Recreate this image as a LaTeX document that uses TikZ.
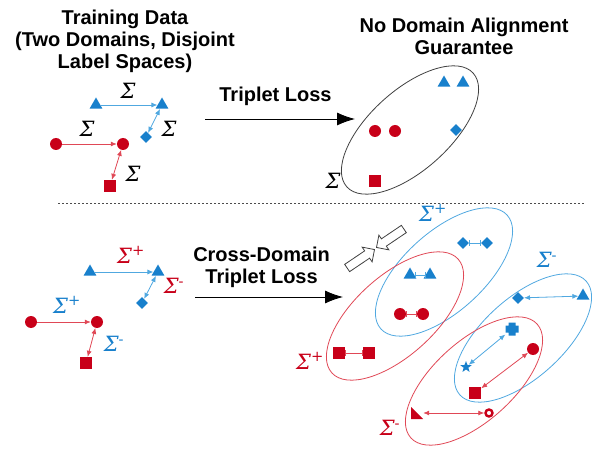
\documentclass[tikz,border=0pt]{standalone}
\usepackage[no-math]{fontspec}
\newfontfamily\titlefont{Liberation Sans}
\newfontfamily\sigfont{DejaVu Serif}
\usetikzlibrary{arrows.meta, shapes.geometric, shapes.arrows}
\definecolor{markB}{RGB}{24,128,204}
\definecolor{lineB}{RGB}{80,168,224}
\definecolor{markR}{RGB}{200,0,25}
\definecolor{lineR}{RGB}{224,72,86}
\tikzset{>={Latex[length=6pt,width=5pt]}}
\tikzset{
  tri/.style={regular polygon, regular polygon sides=3, fill, inner sep=0pt, minimum size=15pt},
  dot/.style={circle, fill, inner sep=0pt, minimum size=12pt},
  sqr/.style={rectangle, fill, inner sep=0pt, minimum size=12pt},
  dia/.style={diamond, fill, inner sep=0pt, minimum size=12pt},
  starm/.style={star, star points=5, star point ratio=2.4, fill, inner sep=0pt, minimum size=12pt},
  ring/.style={circle, draw, line width=2.4pt, inner sep=0pt, minimum size=7pt},
  plusm/.style={rectangle, inner sep=0pt, minimum size=13pt,
    path picture={\fill (path picture bounding box.center) +(-6.5pt,-3.5pt) rectangle +(6.5pt,3.5pt)
      +(-3.5pt,-6.5pt) rectangle +(3.5pt,6.5pt);}},
  bow/.style={rectangle, inner sep=0pt, minimum size=12pt,
    path picture={\fill (path picture bounding box.north west) -- (path picture bounding box.south west)
      -- (path picture bounding box.south east) -- cycle;}},
  lb/.style={lineB, line width=0.8pt},
  lr/.style={lineR, line width=0.8pt},
  hbar/.style={{Bar[width=6pt]}-{Bar[width=6pt]}},
  grp/.style={ellipse, draw, line width=0.8pt, inner sep=0pt, minimum width=170pt, minimum height=80pt, rotate=42},
  sig/.style={font=\sigfont\itshape\fontsize{21}{24}\selectfont, inner sep=0pt},
  ttl/.style={font=\titlefont\bfseries\fontsize{20}{22}\selectfont, align=center, inner sep=0pt},
  big/.style={-{Latex[length=18pt,width=13pt]}, line width=0.9pt},
  hollow/.style={single arrow, draw=black!75, fill=white, line width=0.8pt, inner sep=4pt,
    minimum height=33pt, single arrow head extend=4.5pt, single arrow head indent=0pt},
  sepline/.style={black!70, line width=0.8pt, dash pattern=on 2pt off 2pt}
}
\newcommand{\sgp}{Σ\textsuperscript{\upshape+}}
\newcommand{\sgm}{Σ\textsuperscript{\upshape-}}

\begin{document}
\begin{tikzpicture}[x=1pt, y=-1pt]
\useasboundingbox (0,0) rectangle (592,449);

\node[ttl, anchor=north] (ttA) at (125,10) {Training Data\\(Two Domains, Disjoint\\Label Spaces)};
\node[ttl, anchor=north] (ttB) at (464,18) {No Domain Alignment\\Guarantee};

\coordinate (a1) at (205,119);
\coordinate (a2) at (355,119);
\draw[big] (a1) -- node[pos=0.47, above=13pt, ttl] (lA) {Triplet Loss} (a2);
\coordinate (b1) at (195,297);
\coordinate (b2) at (343,297);
\draw[big] (b1) -- node[pos=0.45, above=9pt, ttl] (lB) {Cross-Domain\\Triplet Loss} (b2);

\coordinate (s1) at (58,203);
\coordinate (s2) at (585,203);
\draw[sepline] (s1) -- (s2);

\node[tri, markB] (tA) at (96,105) {};
\node[tri, markB] (tB) at (162,105) {};
\node[dia, markB] (dA) at (146,137) {};
\node[dot, markR] (cA) at (56,144) {};
\node[dot, markR] (cB) at (123,144) {};
\node[sqr, markR] (sA) at (110,186) {};
\draw[lb, ->] (tA) -- (tB);
\draw[lb, <->] (tB) -- (dA);
\draw[lr, ->] (cA) -- (cB);
\draw[lr, <->] (cB) -- (sA);
\node[sig] (g1) at (128,91) {Σ};
\node[sig] (g2) at (169,129) {Σ};
\node[sig] (g3) at (87,129) {Σ};
\node[sig] (g4) at (133,174) {Σ};

\node[grp, draw=black!75] (eA) at (410,130) {};
\node[tri, markB] (tC) at (444,83) {};
\node[tri, markB] (tD) at (463,83) {};
\node[dot, markR] (cC) at (375,131) {};
\node[dot, markR] (cD) at (395,131) {};
\node[dia, markB] (dB) at (456,130) {};
\node[sqr, markR] (sB) at (375,181) {};
\node[sig] (g5) at (333,181) {Σ};

\node[tri, markB] (tE) at (90,272) {};
\node[tri, markB] (tF) at (158,272) {};
\node[dia, markB] (dC) at (142,303) {};
\node[dot, markR] (cE) at (31,322) {};
\node[dot, markR] (cF) at (97,322) {};
\node[sqr, markR] (sC) at (86,363) {};
\draw[lb, ->] (tE) -- (tF);
\draw[lb, <->] (tF) -- (dC);
\draw[lr, ->] (cE) -- (cF);
\draw[lr, <->] (cF) -- (sC);
\node[sig, markR] (g6) at (131,255) {\sgp};
\node[sig, markR] (g7) at (174,286) {\sgm};
\node[sig, markB] (g8) at (67,305) {\sgp};
\node[sig, markB] (g9) at (114,344) {\sgm};

\node[hollow, rotate=34] (hA) at (359,260) {};
\node[hollow, rotate=214] (hB) at (392,237) {};

\node[grp, lineB] (eB) at (444,272) {};
\node[grp, lineR] (eC) at (395,316) {};
\node[grp, lineB] (eD) at (523,338) {};
\node[grp, lineR] (eE) at (474,381) {};

\node[dia, markB] (dD) at (463,243) {};
\node[dia, markB] (dE) at (487,243) {};
\draw[lb, hbar] (dD) -- (dE);
\node[tri, markB] (tG) at (410,275) {};
\node[tri, markB] (tH) at (430,275) {};
\draw[lb, hbar] (tG) -- (tH);
\node[dot, markR] (cG) at (400,314) {};
\node[dot, markR] (cH) at (423,314) {};
\draw[lr, hbar] (cG) -- (cH);
\node[sqr, markR] (sD) at (339,353) {};
\node[sqr, markR] (sE) at (369,353) {};
\draw[lr, hbar] (sD) -- (sE);

\node[dia, markB] (dF) at (518,298) {};
\node[tri, markB] (tI) at (583,296) {};
\draw[lb, <->] (dF) -- (tI);
\node[plusm, markB] (pl) at (512,329) {};
\node[starm, markB] (st) at (466,367) {};
\draw[lb, <->] (pl) -- (st);
\node[dot, markR] (cI) at (533,349) {};
\node[sqr, markR] (sF) at (475,393) {};
\draw[lr, <->] (cI) -- (sF);
\node[bow, markR] (bw) at (417,413) {};
\node[ring, markR] (rg) at (489,413) {};
\draw[lr, <->] (bw) -- (rg);

\node[sig, markB] (g10) at (433,213) {\sgp};
\node[sig, markB] (g11) at (547,260) {\sgm};
\node[sig, markR] (g12) at (310,361) {\sgp};
\node[sig, markR] (g13) at (390,428) {\sgm};
\end{tikzpicture}
\end{document}
